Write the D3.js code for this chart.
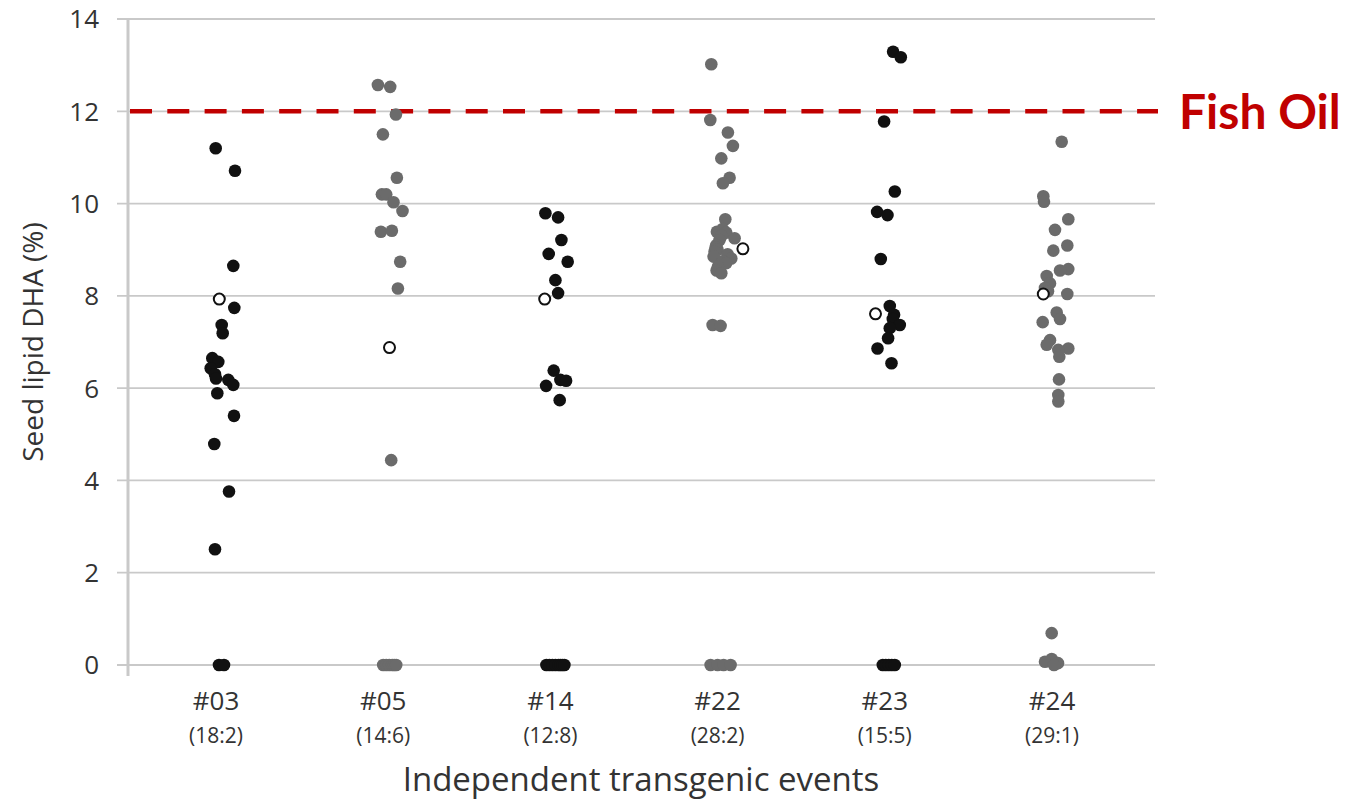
<!DOCTYPE html>
<html>
<head>
<meta charset="utf-8">
<script src="https://cdn.jsdelivr.net/npm/d3@7"></script>
<style>
  body { margin: 0; background: #fff; }
  svg { display: block; font-family: "Open Sans", sans-serif; }
</style>
</head>
<body>
<svg id="chart" width="1351" height="804"></svg>
<script>
// events along the x axis and their (positive:null) counts
var events = ["#03", "#05", "#14", "#22", "#23", "#24"];
var ratios = ["(18:2)", "(14:6)", "(12:8)", "(28:2)", "(15:5)", "(29:1)"];
var yTicks = [0, 2, 4, 6, 8, 10, 12, 14];
var fishOil = 12;

// [DHA %, jitter] per plant
var ev03 = [[11.20, -0.3], [10.71, 19], [8.65, 17.3], [7.74, 18.3], [7.37, 5.7], [7.19, 6.7],
    [6.65, -3.7], [6.57, 2.3], [6.43, -5.3], [6.30, -1], [6.21, 0], [6.18, 12.3], [6.07, 17.3],
    [5.89, 1.3], [5.40, 18], [4.79, -1.7], [3.76, 13], [2.51, -1], [0, 3], [0, 8]];
var ev05 = [[12.57, -5.3], [12.53, 7], [11.93, 12.7], [11.50, -0.3], [10.56, 13.7], [10.20, -1.3],
    [10.20, 3], [10.03, 10.3], [9.84, 19.3], [9.39, -2.3], [9.41, 8.7], [8.74, 17], [8.16, 14.7],
    [4.44, 8], [0, 0], [0, 3], [0, 6], [0, 9], [0, 11], [0, 13]];
var ev14 = [[9.79, -5], [9.70, 7.7], [9.21, 11], [8.91, -1.7], [8.74, 17.3], [8.34, 5], [8.06, 7.7],
    [6.38, 3.3], [6.18, 10], [6.16, 15.7], [6.05, -4.3], [5.74, 9.3],
    [0, -4], [0, -1], [0, 2], [0, 5], [0, 8], [0, 10], [0, 12], [0, 14]];
var ev22 = [[13.02, -6.3], [11.81, -7.3], [11.54, 10.3], [11.25, 15.3], [10.98, 3.7], [10.56, 12],
    [10.44, 5.3], [9.66, 7.7], [9.45, 5], [9.39, -0.7], [9.37, 8.7], [9.30, 4], [9.25, 17], [9.21, 2],
    [9.10, -1.3], [9.05, -2], [9.00, 0], [8.96, -3], [8.90, 10], [8.85, -4], [8.81, 13.7], [8.75, 5],
    [8.71, 8.7], [8.63, 0.3], [8.55, -1], [8.49, 3.7], [7.37, -5], [7.35, 3],
    [0, -7], [0, 0], [0, 6], [0, 13]];
var ev23 = [[13.29, 8.3], [13.17, 16], [11.78, -0.7], [10.26, 10], [9.82, -7.7], [9.75, 2.7], [8.80, -4],
    [7.78, 5], [7.59, 9.3], [7.50, 8], [7.37, 15], [7.30, 5], [7.08, 3.3], [6.86, -7.3], [6.54, 6.7],
    [0, -2], [0, 1], [0, 4], [0, 7], [0, 10]];
var ev24 = [[11.34, 9.7], [10.16, -8.7], [10.04, -8], [9.66, 16.3], [9.43, 3], [9.09, 15.3], [8.98, 1.3],
    [8.58, 16.3], [8.55, 8], [8.43, -5.3], [8.27, -2], [8.17, -7], [8.10, -4], [8.04, 15.3], [7.64, 4.7],
    [7.50, 8], [7.43, -9.3], [7.04, -2], [6.94, -5.3], [6.86, 16.3], [6.83, 6.3], [6.68, 7.3], [6.19, 7],
    [5.85, 6.3], [5.71, 6.3], [0.69, -0.3], [0.13, -0.3], [0.07, -7], [0.04, 6], [0, 2]];
// open circles (one per event)
var openPts = [[7.93, 3.3], [6.88, 6.3], [7.93, -5.7], [9.02, 25.3], [7.61, -9.3], [8.04, -8.7]];

var seriesList = [ev03, ev05, ev14, ev22, ev23, ev24];
var seriesColor = ["#111111", "#6b6b6b", "#111111", "#6b6b6b", "#111111", "#6b6b6b"];

var svg = d3.select("#chart");
var margin = {top: 19, bottom: 139, left: 128, right: 196};
var W = +svg.attr("width"), H = +svg.attr("height");

var y = d3.scaleLinear().domain([0, 14]).range([H - margin.bottom, margin.top]);
var x = d3.scalePoint().domain(events).range([216, 1052]);
var jitter = d3.scaleLinear().domain([-10, 10]).range([-10, 10]);

// gridlines
svg.append("g")
   .selectAll("line")
   .data(yTicks)
   .enter().append("line")
   .attr("x1", margin.left - 11)
   .attr("x2", W - margin.right)
   .attr("y1", d => y(d))
   .attr("y2", d => y(d))
   .attr("stroke", "#c9c9c9")
   .attr("stroke-width", 1.8);

// y axis line
svg.append("line")
   .attr("x1", margin.left).attr("x2", margin.left)
   .attr("y1", y(14)).attr("y2", y(0) + 11)
   .attr("stroke", "#c9c9c9")
   .attr("stroke-width", 3);

// y tick labels
svg.append("g")
   .selectAll("text")
   .data(yTicks)
   .enter().append("text")
   .attr("x", 99)
   .attr("y", d => y(d))
   .attr("dy", "0.36em")
   .attr("text-anchor", "end")
   .attr("font-size", 26)
   .attr("fill", "#333")
   .text(d => d);

// y title
svg.append("text")
   .attr("transform", "translate(43," + ((y(0) + y(14)) / 2) + ") rotate(-90)")
   .attr("text-anchor", "middle")
   .attr("font-size", 28)
   .attr("fill", "#333")
   .text("Seed lipid DHA (%)");

// x labels
var xl = svg.append("g");
xl.selectAll(".ev")
  .data(events)
  .enter().append("text")
  .attr("class", "ev")
  .attr("x", d => x(d))
  .attr("y", 710)
  .attr("text-anchor", "middle")
  .attr("font-size", 26)
  .attr("fill", "#333")
  .text(d => d);
xl.selectAll(".ratio")
  .data(ratios)
  .enter().append("text")
  .attr("class", "ratio")
  .attr("x", (d, i) => x(events[i]))
  .attr("y", 743)
  .attr("text-anchor", "middle")
  .attr("font-size", 21)
  .attr("fill", "#333")
  .text(d => d);
svg.append("text")
   .attr("x", 641)
   .attr("y", 791)
   .attr("text-anchor", "middle")
   .attr("font-size", 33)
   .attr("fill", "#333")
   .text("Independent transgenic events");

// fish oil reference line
svg.append("line")
   .attr("x1", margin.left + 2)
   .attr("x2", W - margin.right + 3)
   .attr("y1", y(fishOil)).attr("y2", y(fishOil))
   .attr("stroke", "#c00000")
   .attr("stroke-width", 4.5)
   .attr("stroke-dasharray", "22,15.3");
svg.append("text")
   .attr("x", 1179)
   .attr("y", y(fishOil) + 18)
   .attr("font-family", "Lato, sans-serif")
   .attr("font-weight", "bold")
   .attr("font-size", 48)
   .attr("fill", "#c00000")
   .text("Fish Oil");

// dots
seriesList.forEach(function (pts, i) {
    var cx = x(events[i]);
    svg.append("g")
       .selectAll("circle")
       .data(pts)
       .enter().append("circle")
       .attr("cx", d => cx + jitter(d[1]))
       .attr("cy", d => y(d[0]))
       .attr("r", 6.3)
       .attr("fill", seriesColor[i]);
});

svg.append("g")
   .selectAll("circle")
   .data(openPts)
   .enter().append("circle")
   .attr("cx", (d, i) => x(events[i]) + jitter(d[1]))
   .attr("cy", d => y(d[0]))
   .attr("r", 5.5)
   .attr("fill", "#fff")
   .attr("stroke", "#111")
   .attr("stroke-width", 2);
</script>
</body>
</html>
